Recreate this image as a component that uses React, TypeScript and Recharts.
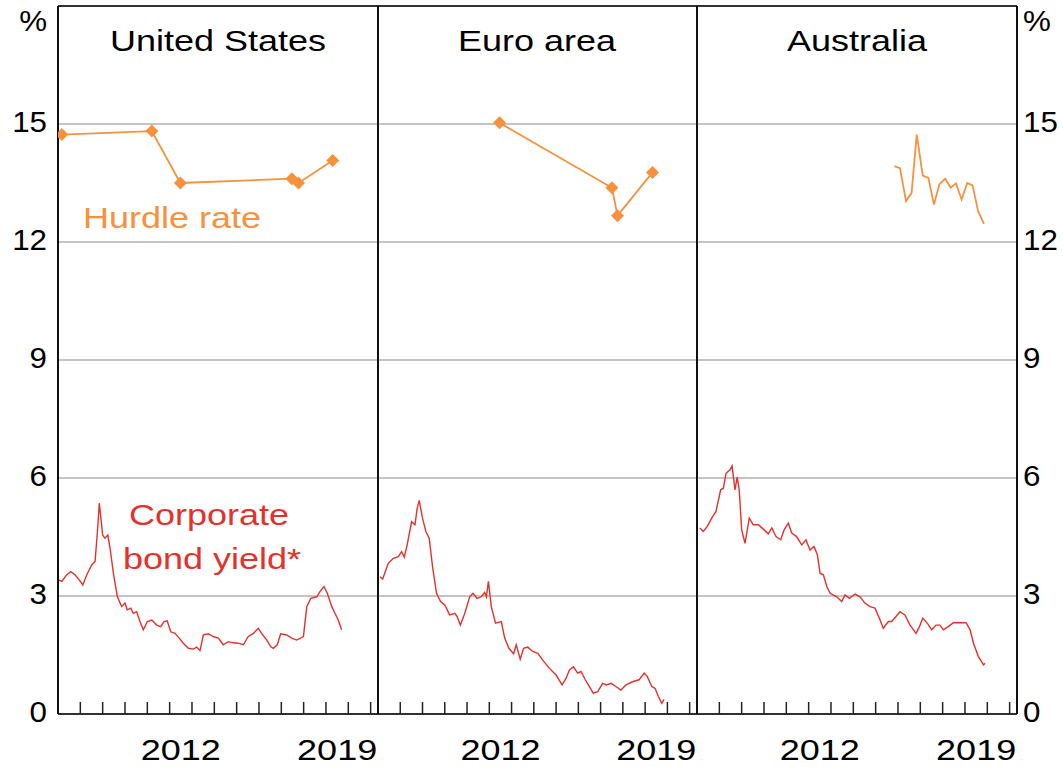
import React from "react";
import {
  LineChart,
  Line,
  XAxis,
  YAxis,
  CartesianGrid,
  ReferenceLine,
} from "recharts";

const ORANGE = "#f7913d";
const RED = "#e4312b";
const FONT = "'Liberation Sans', Arial, sans-serif";

const X_START = 2007;
const X_END = 2021.33;
const yearTicks = [2008, 2009, 2010, 2011, 2012, 2013, 2014, 2015, 2016, 2017, 2018, 2019, 2020, 2021];
const yearLabels = [2012, 2019];
const yTicks = [0, 3, 6, 9, 12, 15, 18];
const panelTitles = ["United States", "Euro area", "Australia"];

// [decimal year, per cent]
const usHurdle: [number, number][] = [
  [2007.17, 14.73], [2011.2, 14.82], [2012.48, 13.5], [2017.47, 13.61], [2017.77, 13.5], [2019.3, 14.07],
];
const euHurdle: [number, number][] = [
  [2012.46, 15.03], [2017.51, 13.38], [2017.76, 12.67], [2019.33, 13.77],
];
const auHurdle: [number, number][] = [
  [2015.84, 13.93], [2016.09, 13.88], [2016.36, 13.04], [2016.61, 13.25], [2016.84, 14.73],
  [2017.11, 13.69], [2017.36, 13.63], [2017.61, 12.95], [2017.85, 13.46], [2018.11, 13.61],
  [2018.36, 13.38], [2018.6, 13.49], [2018.85, 13.08], [2019.1, 13.5], [2019.34, 13.44],
  [2019.59, 12.78], [2019.85, 12.46],
];

const usBond: [number, number][] = [
  [2007.01, 3.41], [2007.17, 3.37], [2007.39, 3.54], [2007.57, 3.62], [2007.76, 3.54], [2007.95, 3.41],
  [2008.11, 3.28], [2008.29, 3.54], [2008.51, 3.79], [2008.66, 3.88], [2008.76, 4.6], [2008.85, 5.36],
  [2009.0, 4.55], [2009.1, 4.47], [2009.23, 4.55], [2009.33, 4.22], [2009.48, 3.58], [2009.66, 2.98],
  [2009.85, 2.73], [2010.0, 2.82], [2010.1, 2.65], [2010.26, 2.69], [2010.37, 2.56], [2010.52, 2.6],
  [2010.67, 2.35], [2010.82, 2.14], [2011.0, 2.35], [2011.2, 2.39], [2011.42, 2.26], [2011.6, 2.22],
  [2011.75, 2.35], [2011.89, 2.37], [2012.05, 2.09], [2012.24, 2.05], [2012.43, 1.93], [2012.61, 1.8],
  [2012.84, 1.67], [2013.06, 1.65], [2013.21, 1.7], [2013.36, 1.61], [2013.51, 2.01], [2013.73, 2.04],
  [2013.95, 1.97], [2014.18, 1.93], [2014.4, 1.76], [2014.63, 1.84], [2014.85, 1.81], [2015.07, 1.8],
  [2015.3, 1.76], [2015.52, 1.97], [2015.75, 2.05], [2015.97, 2.18], [2016.12, 2.05], [2016.35, 1.88],
  [2016.53, 1.71], [2016.64, 1.67], [2016.82, 1.76], [2016.97, 2.04], [2017.24, 2.01], [2017.47, 1.93],
  [2017.69, 1.88], [2017.99, 1.97], [2018.14, 2.73], [2018.32, 2.94], [2018.59, 2.98], [2018.73, 3.11],
  [2018.91, 3.24], [2019.06, 3.07], [2019.26, 2.73], [2019.4, 2.56], [2019.55, 2.39], [2019.7, 2.14],
];

const euBond: [number, number][] = [
  [2007.09, 3.49], [2007.21, 3.43], [2007.46, 3.83], [2007.69, 3.96], [2007.91, 4.0], [2008.06, 4.13],
  [2008.18, 3.99], [2008.31, 4.3], [2008.51, 4.89], [2008.66, 4.81], [2008.76, 5.23], [2008.85, 5.43],
  [2009.0, 4.98], [2009.15, 4.64], [2009.3, 4.47], [2009.45, 3.75], [2009.63, 3.07], [2009.81, 2.86],
  [2010.0, 2.77], [2010.22, 2.52], [2010.45, 2.56], [2010.55, 2.48], [2010.7, 2.26], [2010.9, 2.56],
  [2011.12, 2.98], [2011.27, 3.07], [2011.45, 2.94], [2011.64, 2.98], [2011.79, 3.09], [2011.87, 2.98],
  [2011.96, 3.37], [2012.09, 2.73], [2012.28, 2.31], [2012.54, 2.35], [2012.69, 1.93], [2012.88, 1.67],
  [2013.09, 1.53], [2013.21, 1.76], [2013.39, 1.39], [2013.54, 1.67], [2013.73, 1.7], [2013.95, 1.59],
  [2014.18, 1.54], [2014.4, 1.37], [2014.7, 1.16], [2015.0, 0.99], [2015.27, 0.74], [2015.45, 0.91],
  [2015.6, 1.12], [2015.78, 1.2], [2015.97, 1.04], [2016.12, 1.08], [2016.31, 0.87], [2016.49, 0.7],
  [2016.67, 0.53], [2016.87, 0.57], [2017.09, 0.78], [2017.27, 0.74], [2017.47, 0.78], [2017.69, 0.7],
  [2017.91, 0.61], [2018.14, 0.74], [2018.43, 0.82], [2018.73, 0.87], [2018.96, 1.04], [2019.1, 0.95],
  [2019.3, 0.7], [2019.45, 0.65], [2019.6, 0.44], [2019.75, 0.27], [2019.85, 0.37],
];

const auBond: [number, number][] = [
  [2007.13, 4.73], [2007.28, 4.64], [2007.46, 4.77], [2007.66, 4.98], [2007.85, 5.15], [2008.06, 5.7],
  [2008.18, 5.74], [2008.3, 6.12], [2008.48, 6.21], [2008.57, 6.31], [2008.7, 5.7], [2008.8, 6.02],
  [2008.89, 5.7], [2009.0, 4.68], [2009.15, 4.34], [2009.34, 4.98], [2009.52, 4.81], [2009.75, 4.81],
  [2009.97, 4.7], [2010.19, 4.58], [2010.35, 4.73], [2010.54, 4.51], [2010.75, 4.43], [2010.9, 4.68],
  [2011.09, 4.85], [2011.24, 4.6], [2011.46, 4.51], [2011.69, 4.3], [2011.88, 4.43], [2012.06, 4.17],
  [2012.24, 4.26], [2012.39, 4.05], [2012.51, 3.58], [2012.66, 3.54], [2012.81, 3.24], [2012.96, 3.07],
  [2013.26, 2.98], [2013.48, 2.86], [2013.63, 3.03], [2013.82, 2.94], [2014.08, 3.05], [2014.3, 2.98],
  [2014.52, 2.82], [2014.75, 2.73], [2014.97, 2.69], [2015.2, 2.39], [2015.34, 2.18], [2015.57, 2.35],
  [2015.72, 2.35], [2015.91, 2.48], [2016.09, 2.6], [2016.31, 2.52], [2016.54, 2.26], [2016.81, 2.05],
  [2016.96, 2.22], [2017.11, 2.44], [2017.31, 2.31], [2017.51, 2.14], [2017.7, 2.26], [2017.88, 2.26],
  [2018.03, 2.14], [2018.25, 2.22], [2018.48, 2.32], [2018.78, 2.32], [2019.05, 2.32], [2019.23, 2.14],
  [2019.38, 1.8], [2019.6, 1.46], [2019.83, 1.25], [2019.9, 1.29],
];

const toRows = (pairs: [number, number][]) => pairs.map(([date, value]) => ({ date, value }));

const xTicks = [...yearTicks, ...yearLabels.map((y) => y + 0.5)];

function XTick(props: any) {
  const { x, y, payload } = props;
  const v = payload.value as number;
  if (Number.isInteger(v)) {
    return <line x1={x} x2={x} y1={y} y2={y - 12} stroke="#222" strokeWidth={1.5} />;
  }
  return (
    <g transform={`translate(${x},${y + 46}) scale(1.2,1)`}>
      <text textAnchor="middle" fontSize={30} fontFamily={FONT} fill="#000">
        {Math.floor(v)}
      </text>
    </g>
  );
}

function YTick(props: any) {
  const { x, y, payload, anchor } = props;
  const v = payload.value as number;
  const isTop = v === 18;
  return (
    <g transform={`translate(${x},${y + (isTop ? 25 : 7.5)}) scale(1.08,1)`}>
      <text textAnchor={anchor} fontSize={29} fontFamily={FONT} fill="#000">
        {isTop ? "%" : v}
      </text>
    </g>
  );
}

function Diamond(props: any) {
  const { cx, cy } = props;
  if (cx == null || cy == null) return null;
  const r = 6.5;
  return (
    <polygon
      points={`${cx},${cy - r} ${cx + r},${cy} ${cx},${cy + r} ${cx - r},${cy}`}
      fill={ORANGE}
      stroke="none"
    />
  );
}

function Panel({
  left,
  width,
  margin,
  axis,
  bond,
  hurdle,
  dots,
}: {
  left: number;
  width: number;
  margin: { top: number; right: number; bottom: number; left: number };
  axis: "left" | "right" | "none";
  bond: [number, number][];
  hurdle: [number, number][];
  dots: boolean;
}) {
  const border = { stroke: "#000", strokeWidth: 1.5 };
  return (
    <div style={{ position: "absolute", left, top: 0 }}>
      <LineChart width={width} height={767} margin={margin}>
        <CartesianGrid vertical={false} stroke="#b0b0b0" strokeWidth={1.5} />
        <XAxis
          type="number"
          dataKey="date"
          domain={[X_START, X_END]}
          allowDataOverflow
          ticks={xTicks}
          interval={0}
          tickSize={0}
          tickMargin={0}
          tickLine={false}
          axisLine={border}
          tick={XTick}
          height={53}
        />
        {axis === "none" ? (
          <YAxis type="number" domain={[0, 18]} ticks={yTicks} interval={0} hide />
        ) : (
          <YAxis
            type="number"
            orientation={axis}
            width={axis === "left" ? 58 : 46}
            domain={[0, 18]}
            ticks={yTicks}
            interval={0}
            tickSize={0}
            tickMargin={axis === "left" ? 11 : 6}
            tickLine={false}
            axisLine={border}
            tick={(p: any) => <YTick {...p} anchor={axis === "left" ? "end" : "start"} />}
          />
        )}
        <ReferenceLine y={18} {...border} />
        <ReferenceLine x={X_START} {...border} />
        <ReferenceLine x={X_END} {...border} />
        <Line
          data={toRows(bond)}
          dataKey="value"
          type="linear"
          stroke={RED}
          strokeWidth={1.4}
          dot={false}
          isAnimationActive={false}
        />
        <Line
          data={toRows(hurdle)}
          dataKey="value"
          type="linear"
          stroke={ORANGE}
          strokeWidth={1.8}
          dot={dots ? (p: any) => <Diamond key={p.index} {...p} /> : false}
          isAnimationActive={false}
        />
      </LineChart>
    </div>
  );
}

function Note({ x, y, color, text }: { x: number; y: number; color: string; text: string }) {
  return (
    <g transform={`translate(${x},${y}) scale(1.2,1)`}>
      <text textAnchor="middle" fontSize={30} fontFamily={FONT} fill={color}>
        {text}
      </text>
    </g>
  );
}

export default function App() {
  return (
    <div style={{ position: "absolute", left: 0, top: 0, width: 1063, height: 767, background: "#fff" }}>
      <Panel left={0} width={381} margin={{ top: 6, right: 3, bottom: 0, left: 0 }} axis="left" bond={usBond} hurdle={usHurdle} dots />
      <Panel left={375} width={325} margin={{ top: 6, right: 3, bottom: 0, left: 3 }} axis="none" bond={euBond} hurdle={euHurdle} dots />
      <Panel left={694} width={369} margin={{ top: 6, right: 0, bottom: 0, left: 3 }} axis="right" bond={auBond} hurdle={auHurdle} dots={false} />
      <svg width={1063} height={767} style={{ position: "absolute", left: 0, top: 0, pointerEvents: "none" }}>
        <Note x={218} y={51} color="#000" text={panelTitles[0]} />
        <Note x={537} y={51} color="#000" text={panelTitles[1]} />
        <Note x={857} y={51} color="#000" text={panelTitles[2]} />
        <Note x={172} y={228} color={ORANGE} text="Hurdle rate" />
        <Note x={209} y={525} color={RED} text="Corporate" />
        <Note x={212} y={569} color={RED} text="bond yield*" />
      </svg>
    </div>
  );
}
